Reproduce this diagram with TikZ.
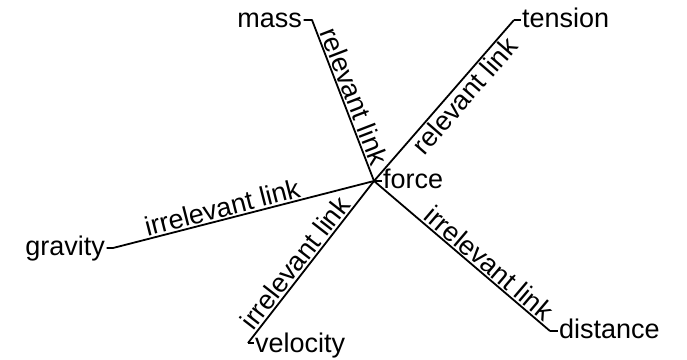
\documentclass[tikz,border=0pt]{standalone}
\usepackage{fontspec}
\setmainfont{Liberation Sans}
\begin{document}
\begin{tikzpicture}[x=1pt,y=-1pt,
  lbl/.style={font=\fontsize{27}{30}\selectfont, inner sep=0pt},
  link/.style={line width=1.8pt, line join=round},
  elbl/.style={font=\fontsize{27}{30}\selectfont, sloped, inner sep=1.5pt}]
\useasboundingbox (0,0) rectangle (687,359);
% vertices
\coordinate (f) at (374,181);
\coordinate (m) at (312,20);
\coordinate (t) at (514,20);
\coordinate (g) at (113,248);
\coordinate (v) at (248,343);
\coordinate (d) at (550,331);
% labels
\node[lbl, anchor=base west] (fL) at (383,188) {force};
\node[lbl, anchor=base east] (mL) at (302,27) {mass};
\node[lbl, anchor=base west] (tL) at (522,27) {tension};
\node[lbl, anchor=base east] (gL) at (105,255) {gravity};
\node[lbl, anchor=base west] (vL) at (255,352) {velocity};
\node[lbl, anchor=base west] (dL) at (559,338) {distance};
% stubs
\draw[link] (f) -- ([xshift=-1.5pt]fL.west |- f);
\draw[link] (t) -- ([xshift=-1pt]tL.west |- t);
\draw[link] (v) -- ([xshift=-1pt]vL.west |- v);
\draw[link] (d) -- ([xshift=-1pt]dL.west |- d);
% edges
\draw[link] ([xshift=1.5pt]mL.east |- m) -- (m) -- node[elbl, above, pos=.5] {relevant link} (f);
\draw[link] (f) -- node[elbl, below, pos=.58] {relevant link} (t);
\draw[link] ([xshift=1.5pt]gL.east |- g) -- (g) -- node[elbl, above, pos=.43] {irrelevant link} (f);
\draw[link] (v) -- node[elbl, above, pos=.45] {irrelevant link} (f);
\draw[link] (f) -- node[elbl, above, pos=.61] {irrelevant link} (d);
\end{tikzpicture}
\end{document}
